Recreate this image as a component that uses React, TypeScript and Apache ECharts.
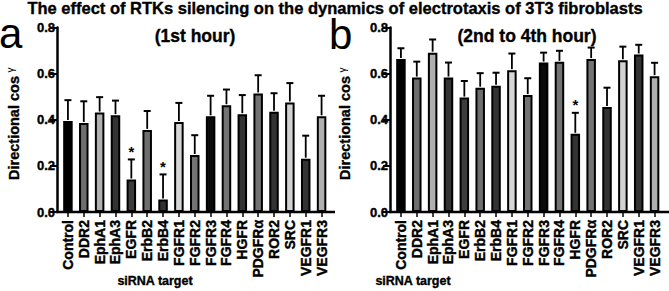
import React, { useEffect, useRef } from "react";
import * as echarts from "echarts";

const categories = ["Control", "DDR2", "EphA1", "EphA3", "EGFR", "ErbB2", "ErbB4", "FGFR1", "FGFR2", "FGFR3", "FGFR4", "HGFR", "PDGFRα", "ROR2", "SRC", "VEGFR1", "VEGFR3"];

const firstHourMean = [0.395, 0.386, 0.431, 0.42, 0.141, 0.356, 0.054, 0.39, 0.247, 0.415, 0.463, 0.424, 0.514, 0.435, 0.475, 0.231, 0.415];
const firstHourErr = [0.09, 0.094, 0.067, 0.063, 0.087, 0.082, 0.109, 0.083, 0.086, 0.089, 0.068, 0.083, 0.079, 0.08, 0.084, 0.1, 0.089];
const firstHourSig = ["EGFR", "ErbB4"];

const laterMean = [0.663, 0.583, 0.691, 0.583, 0.496, 0.539, 0.547, 0.615, 0.507, 0.648, 0.651, 0.339, 0.663, 0.455, 0.658, 0.683, 0.589];
const laterErr = [0.047, 0.069, 0.057, 0.065, 0.072, 0.063, 0.057, 0.072, 0.073, 0.043, 0.048, 0.091, 0.05, 0.084, 0.059, 0.042, 0.058];
const laterSig = ["HGFR"];

const yTicks = ["0.0", "0.2", "0.4", "0.6", "0.8"];

// fill palette per category (style)
const palette = ["#000000", "#6e6e6e", "#b0b0b0", "#333333", "#3c3c3c", "#6e6e6e", "#333333", "#d6d6d6", "#737373", "#0a0a0a", "#737373", "#333333", "#737373", "#333333", "#d2d2d2", "#333333", "#b0b0b0"];

const FONT = "'Liberation Sans', Arial, sans-serif";

export default function App() {
  const ref = useRef<HTMLDivElement>(null);
  useEffect(() => {
    if (!ref.current) return;
    const chart = echarts.init(ref.current, undefined, { renderer: "svg" });

    const grids = [
      { left: 60, top: 27.5, width: 269.5, height: 184.5 },
      { left: 393, top: 27.5, width: 269.5, height: 184.5 },
    ];

    const xAxis = [0, 1].map((g) => ({
      type: "category",
      gridIndex: g,
      data: categories,
      axisLine: { show: false },
      axisTick: { show: true, alignWithLabel: true, length: 5, lineStyle: { color: "#000", width: 1.5 } },
      axisLabel: {
        rotate: 90, interval: 0, fontSize: 14, fontWeight: "bold", color: "#000", fontFamily: FONT, margin: 8,
        textBorderColor: "#000", textBorderWidth: 0.4,
      },
      splitLine: { show: false },
    }));

    const yAxis = [0, 1].map((g) => ({
      type: "value",
      gridIndex: g,
      min: 0,
      max: 0.8,
      interval: 0.2,
      offset: 3,
      axisLine: { show: true, lineStyle: { color: "#000", width: 2.5 } },
      axisTick: { show: true, length: 7, lineStyle: { color: "#000", width: 2 } },
      axisLabel: {
        fontSize: 13,
        fontWeight: "bold",
        color: "#000",
        fontFamily: FONT,
        margin: 2,
        textBorderColor: "#000",
        textBorderWidth: 0.4,
        formatter: (v: number) => yTicks[Math.round(v / 0.2)] ?? v.toFixed(1),
      },
      splitLine: { show: false },
    }));

    const barSeries = (g: number, mean: number[]) => ({
      type: "bar",
      xAxisIndex: g,
      yAxisIndex: g,
      barWidth: 9.5,
      z: 2,
      data: mean.map((v, i) => ({
        value: v,
        itemStyle: { color: palette[i], borderColor: "#000", borderWidth: 2 },
      })),
    });

    const errSeries = (g: number, mean: number[], err: number[], sig: string[]) => ({
      type: "custom",
      xAxisIndex: g,
      yAxisIndex: g,
      z: 3,
      encode: { x: 0, y: 1 },
      data: categories.map((c, i) => [i, mean[i], err[i], sig.includes(c) ? 1 : 0]),
      renderItem: (params: any, api: any) => {
        const idx = api.value(0);
        const m = api.value(1);
        const e = api.value(2);
        const s = api.value(3);
        const base = api.coord([idx, m]);
        const top = api.coord([idx, m + e]);
        const children: any[] = [
          { type: "line", shape: { x1: base[0], y1: base[1] - 1, x2: top[0], y2: top[1] }, style: { stroke: "#000", lineWidth: 1.8 } },
          { type: "line", shape: { x1: top[0] - 3.5, y1: top[1], x2: top[0] + 3.5, y2: top[1] }, style: { stroke: "#000", lineWidth: 2 } },
        ];
        if (s) {
          children.push({
            type: "text",
            x: top[0],
            y: top[1] - 8,
            style: { text: "*", fill: "#000", font: `bold 15px ${FONT}`, align: "center", verticalAlign: "middle" },
          });
        }
        return { type: "group", children };
      },
    });

    const txt = (x: number, y: number, text: string, font: string, align = "center", extra: any = {}, rotation = 0) => ({
      type: "text",
      x,
      y,
      rotation,
      style: { text, font, fill: "#000", align, verticalAlign: "middle", ...extra },
    });

    const heavy = { stroke: "#000", lineWidth: 0.35 };

    chart.setOption({
      animation: false,
      backgroundColor: "#fff",
      grid: grids.map((g) => ({ ...g, containLabel: false, outerBoundsMode: "none" })),
      xAxis,
      yAxis,
      series: [
        barSeries(0, firstHourMean),
        errSeries(0, firstHourMean, firstHourErr, firstHourSig),
        barSeries(1, laterMean),
        errSeries(1, laterMean, laterErr, laterSig),
      ],
      graphic: [
        txt(335, 7.5, "The effect of RTKs silencing on the dynamics of electrotaxis of 3T3 fibroblasts", `bold 16.5px ${FONT}`, "center", heavy),
        txt(195, 35.5, "(1st hour)", `bold 17.5px ${FONT}`, "center", heavy),
        txt(527, 35.5, "(2nd to 4th hour)", `bold 17.5px ${FONT}`, "center", heavy),
        txt(-1, 33.5, "a", `42px ${FONT}`, "left"),
        txt(329, 34, "b", `42px ${FONT}`, "left"),
        txt(13.5, 128, "Directional cos", `bold 14.5px ${FONT}`, "center", heavy, Math.PI / 2),
        txt(10.5, 70, "γ", `10px ${FONT}`, "center", {}, Math.PI / 2),
        txt(345, 128, "Directional cos", `bold 14.5px ${FONT}`, "center", heavy, Math.PI / 2),
        txt(342, 70, "γ", `10px ${FONT}`, "center", {}, Math.PI / 2),
        txt(155, 281, "siRNA target", `bold 12.5px ${FONT}`, "center", heavy),
        txt(413, 281, "siRNA target", `bold 12.5px ${FONT}`, "center", heavy),
        { type: "line", shape: { x1: 55.8, y1: 212, x2: 335, y2: 212 }, style: { stroke: "#000", lineWidth: 2.5 }, z: 10 },
        { type: "line", shape: { x1: 388.8, y1: 212, x2: 669, y2: 212 }, style: { stroke: "#000", lineWidth: 2.5 }, z: 10 },
      ],
    });
    return () => chart.dispose();
  }, []);
  return <div ref={ref} style={{ position: "fixed", left: 0, top: 0, width: 669, height: 291 }} />;
}
